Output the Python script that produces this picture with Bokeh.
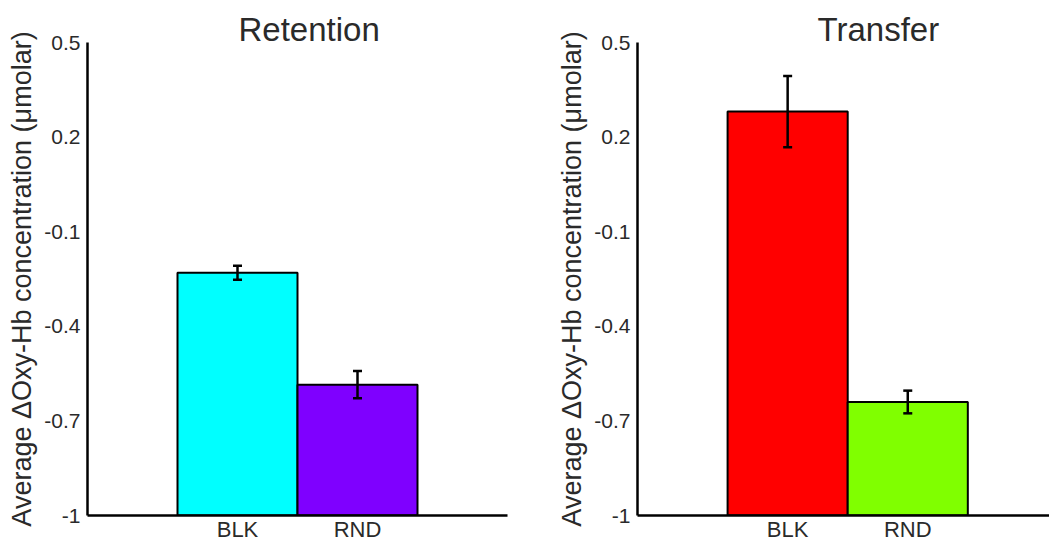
from bokeh.plotting import figure
from bokeh.layouts import row
from bokeh.models import Range1d, FixedTicker, Whisker, ColumnDataSource, TeeHead, Title
from bokeh.embed import file_html
from bokeh.resources import INLINE

# ---- data ----
categories = ["BLK", "RND"]
retention_means = [-0.230, -0.585]
retention_err = [0.022, 0.043]
transfer_means = [0.281, -0.640]
transfer_err = [0.113, 0.036]
retention_colors = ["#00FFFF", "#7F00FF"]
transfer_colors = ["#FF0000", "#80FF00"]
y_ticks = [-1.0, -0.7, -0.4, -0.1, 0.2, 0.5]
y_tick_labels = ["-1", "-0.7", "-0.4", "-0.1", "0.2", "0.5"]
y_label = "Average \u0394Oxy-Hb concentration (\u03bcmolar)"
baseline = -1.0

FONT = "Liberation Sans"
TXT = "#2a2a2a"


def panel(title, means, errs, colors, width, border_left, border_right, x_end, title_offset):
    xs = [i + 0.5 for i in range(len(categories))]
    p = figure(width=width, height=544, output_backend="svg", toolbar_location=None,
               x_range=Range1d(-0.75, x_end), y_range=Range1d(-1.0, 0.5),
               min_border_left=border_left, min_border_right=border_right,
               min_border_top=42, min_border_bottom=28, title=None)
    p.outline_line_color = None
    p.grid.visible = False
    p.background_fill_color = "white"
    p.border_fill_color = "white"

    src = ColumnDataSource(dict(x=xs, top=means, color=colors,
                                upper=[m + e for m, e in zip(means, errs)],
                                lower=[m - e for m, e in zip(means, errs)]))
    p.vbar(x="x", top="top", bottom=baseline, width=1.0, source=src,
           fill_color="color", line_color="black", line_width=2)
    w = Whisker(base="x", upper="upper", lower="lower", source=src, level="overlay",
                line_color="black", line_width=2.5,
                upper_head=TeeHead(size=9, line_width=2.5, line_color="black"),
                lower_head=TeeHead(size=9, line_width=2.5, line_color="black"))
    p.add_layout(w)

    for ax in (p.xaxis[0], p.yaxis[0]):
        ax.axis_line_color = "black"
        ax.axis_line_width = 2.5
        ax.major_tick_line_color = None
        ax.minor_tick_line_color = None
        ax.major_tick_in = 0
        ax.major_tick_out = 0
        ax.minor_tick_in = 0
        ax.minor_tick_out = 0
        ax.major_label_text_font = FONT
        ax.major_label_text_color = TXT

    # y axis
    ya = p.yaxis[0]
    ya.ticker = FixedTicker(ticks=y_ticks)
    ya.major_label_overrides = {t: l for t, l in zip(y_ticks, y_tick_labels)}
    ya.major_label_text_font_size = "21px"
    ya.major_label_standoff = 7
    ya.axis_label = y_label
    ya.axis_label_text_font = FONT
    ya.axis_label_text_font_size = "27px"
    ya.axis_label_text_font_style = "normal"
    ya.axis_label_text_color = TXT
    ya.axis_label_standoff = 4

    # x axis
    xa = p.xaxis[0]
    xa.ticker = FixedTicker(ticks=xs)
    xa.major_label_overrides = {x: c for x, c in zip(xs, categories)}
    xa.major_label_text_font_size = "22px"
    xa.major_label_standoff = 1

    t = Title(text=title, align="left", offset=title_offset, standoff=-10,
              text_font=FONT, text_font_size="33px", text_font_style="normal",
              text_color=TXT)
    p.add_layout(t, "above")
    return p


left = panel("Retention", retention_means, retention_err, retention_colors,
             528, 87, 21, 2.75, 151)
right = panel("Transfer", transfer_means, transfer_err, transfer_colors,
              521, 109, 0, 2.68, 180)

layout = row(left, right)
open("out.html", "w").write(file_html(layout, INLINE))
